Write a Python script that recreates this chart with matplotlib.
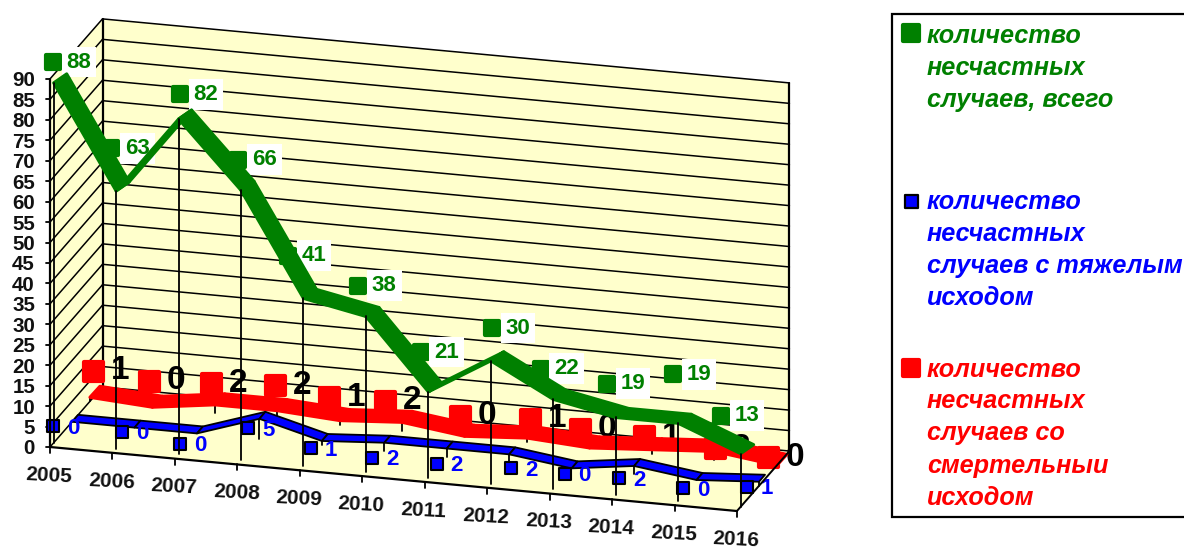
import matplotlib
matplotlib.use("Agg")
import matplotlib.pyplot as plt
from matplotlib.markers import MarkerStyle
from matplotlib.patches import Polygon

plt.rcParams['font.family'] = ['Liberation Sans', 'DejaVu Sans']

# ---- data ----
years = [2005, 2006, 2007, 2008, 2009, 2010, 2011, 2012, 2013, 2014, 2015, 2016]
total_cases = [88, 63, 82, 66, 41, 38, 21, 30, 22, 19, 19, 13]
severe_cases = [0, 0, 0, 5, 1, 2, 2, 2, 0, 2, 0, 1]
fatal_cases = [1, 0, 2, 2, 1, 2, 0, 1, 0, 1, 2, 0]
value_ticks = list(range(0, 95, 5))
legend_total = ["количество", "несчастных", "случаев, всего"]
legend_severe = ["количество", "несчастных", "случаев с тяжелым", "исходом"]
legend_fatal = ["количество", "несчастных", "случаев со", "смертельныи", "исходом"]

# ---- label placement relative to each projected point (pixels) ----
total_key_offset = [(3, -25), (-1, -47), (5, -29), (1, -35), (-12, -47), (-4, -35),
                    (-4, -44), (5, -37), (-9, -35), (-5, -38), (-1.5, -53), (-16, -42)]
severe_key_offset = [(3, -21), (9.5, -21), (5, -15), (11, -16), (11, -18), (10, -10),
                     (12, -10), (24, -11.5), (15, -20), (7, -13), (8.5, -17), (10, -20)]
fatal_key_offset = [(43, -72), (36.5, -72), (36, -67), (38, -71), (29, -69), (23, -67),
                    (35, -66), (43, -65), (30, -65), (32, -59), (40, -49), (31, -54)]

# ---- oblique projection of the 3-D box ----
X0, Y0 = 50.0, 447.0        # front-left corner of the floor
CAT_DX, CAT_DY = 62.45, 5.82
VAL_DY = 4.09
DEPTH_DX, DEPTH_DY = 52.5, -60.0
GREEN, BLUE, RED = "#008000", "#0000FF", "#FF0000"
WALL = "#FFFFCC"


def proj(cat, val, depth=0.0):
    return (X0 + CAT_DX * cat + DEPTH_DX * depth,
            Y0 + CAT_DY * cat - VAL_DY * val + DEPTH_DY * depth)


fig = plt.figure(figsize=(11.84, 5.48), dpi=100)
ax = fig.add_axes([0, 0, 1, 1])
ax.set_xlim(0, 1184)
ax.set_ylim(548, 0)
ax.axis("off")

last = len(years) - 1
top = value_ticks[-1]
line_kw = dict(color="black", solid_capstyle="round")


def seg(p, q, lw=1.3, z=2):
    ax.plot([p[0], q[0]], [p[1], q[1]], lw=lw, zorder=z, **line_kw)


# walls and floor
ax.add_patch(Polygon([proj(0, top, 1), proj(last, top, 1), proj(last, 0, 1), proj(0, 0, 1)],
                     fc=WALL, ec="none", zorder=1))
ax.add_patch(Polygon([proj(0, top, 0), proj(0, top, 1), proj(0, 0, 1), proj(0, 0, 0)],
                     fc=WALL, ec="none", zorder=1))
ax.add_patch(Polygon([proj(0, 0, 0), proj(0, 0, 1), proj(last, 0, 1), proj(last, 0, 0)],
                     fc=WALL, ec="none", zorder=1))
for v in value_ticks:
    seg(proj(0, v, 0), proj(0, v, 1), 1.1)
    seg(proj(0, v, 1), proj(last, v, 1), 1.1)
    x, y = proj(0, v, 0)
    seg((x - 4, y), (x, y), 1.3)
    ax.text(x - 15, y, str(v), ha="right", va="center_baseline", fontsize=14.8,
            fontweight="bold", color="#111111", zorder=9)
seg(proj(0, top, 1), proj(0, 0, 1), 1.6)
seg(proj(last, top, 1), proj(last, 0, 1), 1.6)
seg(proj(0, top, 0), proj(0, 0, 0), 1.6, 6)
seg(proj(0, 0, 0), proj(last, 0, 0), 1.6, 6)
seg(proj(last, 0, 0), proj(last, 0, 1), 1.4, 6)
for i, yr in enumerate(years):
    x, y = proj(i, 0, 0)
    seg((x, y), (x, y + 6), 1.3, 6)
    ax.text(x - 1, y + 28.5, str(yr), ha="center", va="center", fontsize=15,
            fontweight="bold", color="#111111", rotation=-3, zorder=9)


def ribbon(values, depth, back, color, z, edge=None, stroke=0.5):
    """Ribbon between the front edge at `depth` and that edge shifted by `back` pixels."""
    for i in range(len(values) - 1):
        a, b = proj(i, values[i], depth), proj(i + 1, values[i + 1], depth)
        pts = [a, b, (b[0] + back[0], b[1] + back[1]), (a[0] + back[0], a[1] + back[1])]
        ax.add_patch(Polygon(pts, fc=color, ec=edge or color, lw=stroke,
                             joinstyle="round", zorder=z))


def drops(values, depth, z, lw=1.3):
    for i, v in enumerate(values):
        seg(proj(i, v, depth), proj(i, 0, depth), lw, z)


def keys(values, offsets, color, side, pad, z, edge, mew, fs, tc, txt_dy=0, box=False):
    for i, v in enumerate(values):
        x0, y0 = proj(i, v, 0)
        x, y = x0 + offsets[i][0], y0 + offsets[i][1]
        ax.plot([x], [y], marker=MarkerStyle("s", joinstyle="round"), ms=side * 0.72,
                mfc=color, mec=edge, mew=mew, zorder=z, ls="none")
        bbox = dict(fc="white", ec="none", pad=3.5) if box else None
        ax.text(x + pad, y + txt_dy, str(v), ha="center", va="center", fontsize=fs,
                fontweight="bold", color=tc, zorder=z, bbox=bbox)


# red series (farthest)
drops(fatal_cases, 0.76, 2.5)
keys(fatal_cases, fatal_key_offset, RED, 19, 27, 3, RED, 3, 24, "black")
ribbon(fatal_cases, 0.76, (10, -11), RED, 4, stroke=2.2)
# blue series
drops(severe_cases, 0.42, 4.5)
ribbon(severe_cases, 0.42, (6, -7), BLUE, 5, edge="black", stroke=1.3)
keys(severe_cases, severe_key_offset, BLUE, 11.5, 20, 5.5, "black", 1.5, 16, BLUE, 2)
# green series (nearest)
keys(total_cases, total_key_offset, GREEN, 14, 26, 6.5, GREEN, 3, 16, GREEN, box=True)
ribbon(total_cases, 0.07, (13, -9), GREEN, 7, stroke=2.2)
drops(total_cases, 0.07, 7.5)

# legend box
ax.add_patch(Polygon([(891.5, 14), (1190, 14), (1190, 517), (891.5, 517)], fc="white",
                     ec="black", lw=1.6, zorder=1))
for lines, ys, color, key_y, key_side, edge in [
    (legend_total, [36, 68, 100], GREEN, 33, 16, GREEN),
    (legend_severe, [202, 234, 266, 298], BLUE, 201, 13, "black"),
    (legend_fatal, [370, 401, 433, 466, 498], RED, 368, 16, RED),
]:
    ax.plot([911], [key_y], marker=MarkerStyle("s", joinstyle="round"), ms=key_side * 0.72,
            mfc=color, mec=edge, mew=1.6 if edge == "black" else 3, ls="none", zorder=3)
    for s, y in zip(lines, ys):
        ax.text(927, y, s, ha="left", va="center", fontsize=18.2, fontweight="bold",
                fontstyle="italic", color=color, zorder=3)

fig.savefig("out.png", dpi=100)
